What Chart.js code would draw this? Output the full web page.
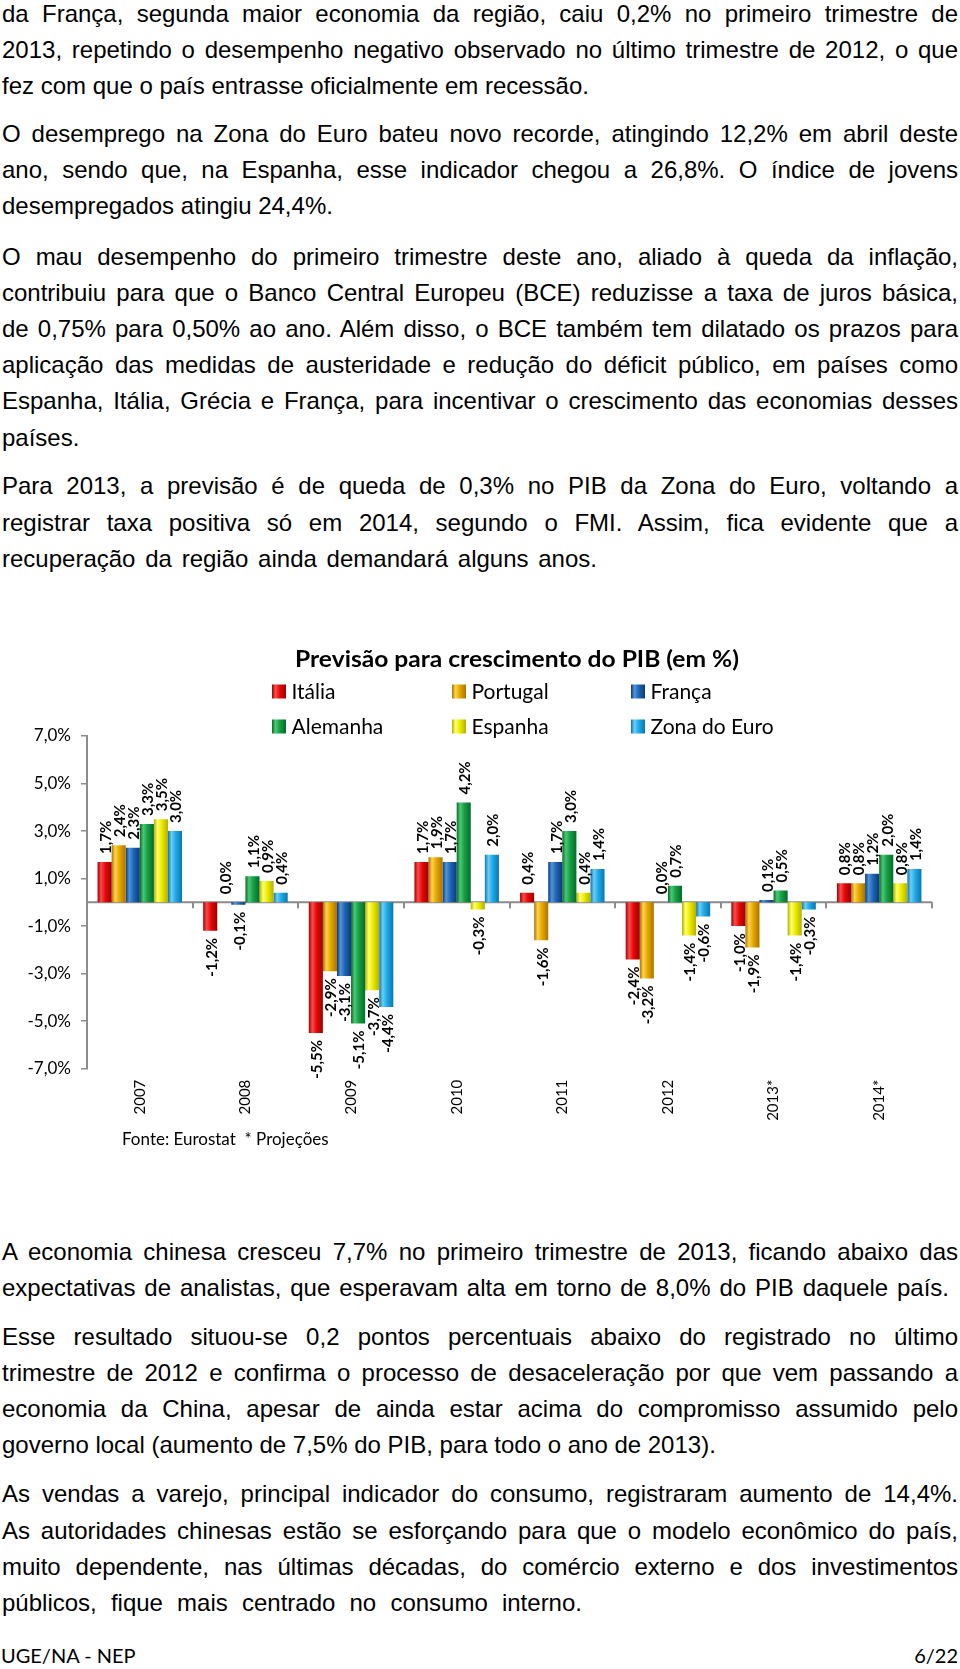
<!DOCTYPE html>
<html lang="pt">
<head>
<meta charset="utf-8">
<script src="https://cdn.jsdelivr.net/npm/chart.js"></script>
<style>
html,body{margin:0;padding:0;background:#fff;}
body{width:960px;height:1669px;position:relative;overflow:hidden;font-family:"Liberation Sans",Arial,sans-serif;color:#000;}
.p{position:absolute;left:2px;width:956px;font-size:24px;line-height:36.2px;}
.p div{white-space:nowrap;}
#chartbox{position:absolute;left:0;top:600px;width:960px;height:560px;}
#fonte{position:absolute;left:122px;top:1128px;font-family:Lato,sans-serif;font-size:17px;line-height:22px;white-space:pre;}
.foot{position:absolute;top:1642px;font-family:Lato,sans-serif;font-size:20px;line-height:26px;}
</style>
</head>
<body>
<div class="p" style="top:-4px">
<div class="j">da França, segunda maior economia da região, caiu 0,2% no primeiro trimestre de</div>
<div class="j">2013, repetindo o desempenho negativo observado no último trimestre de 2012, o que</div>
<div>fez com que o país entrasse oficialmente em recessão.</div>
</div>
<div class="p" style="top:116px">
<div class="j">O desemprego na Zona do Euro bateu novo recorde, atingindo 12,2% em abril deste</div>
<div class="j">ano, sendo que, na Espanha, esse indicador chegou a 26,8%. O índice de jovens</div>
<div>desempregados atingiu 24,4%.</div>
</div>
<div class="p" style="top:238.5px">
<div class="j">O mau desempenho do primeiro trimestre deste ano, aliado à queda da inflação,</div>
<div class="j">contribuiu para que o Banco Central Europeu (BCE) reduzisse a taxa de juros básica,</div>
<div class="j">de 0,75% para 0,50% ao ano. Além disso, o BCE também tem dilatado os prazos para</div>
<div class="j">aplicação das medidas de austeridade e redução do déficit público, em países como</div>
<div class="j">Espanha, Itália, Grécia e França, para incentivar o crescimento das economias desses</div>
<div>países.</div>
</div>
<div class="p" style="top:468.4px">
<div class="j">Para 2013, a previsão é de queda de 0,3% no PIB da Zona do Euro, voltando a</div>
<div class="j">registrar taxa positiva só em 2014, segundo o FMI. Assim, fica evidente que a</div>
<div class="j" data-w="595">recuperação da região ainda demandará alguns anos.</div>
</div>

<div id="chartbox"><canvas id="c" width="960" height="560"></canvas></div>
<div id="fonte">Fonte: Eurostat  * Projeções</div>

<div class="p" style="top:1233.7px">
<div class="j">A economia chinesa cresceu 7,7% no primeiro trimestre de 2013, ficando abaixo das</div>
<div class="j" data-w="947">expectativas de analistas, que esperavam alta em torno de 8,0% do PIB daquele país.</div>
</div>
<div class="p" style="top:1318.8px">
<div class="j">Esse resultado situou-se 0,2 pontos percentuais abaixo do registrado no último</div>
<div class="j">trimestre de 2012 e confirma o processo de desaceleração por que vem passando a</div>
<div class="j">economia da China, apesar de ainda estar acima do compromisso assumido pelo</div>
<div>governo local (aumento de 7,5% do PIB, para todo o ano de 2013).</div>
</div>
<div class="p" style="top:1476.4px">
<div class="j">As vendas a varejo, principal indicador do consumo, registraram aumento de 14,4%.</div>
<div class="j">As autoridades chinesas estão se esforçando para que o modelo econômico do país,</div>
<div class="j">muito dependente, nas últimas décadas, do comércio externo e dos investimentos</div>
<div class="j" data-w="580">públicos, fique mais centrado no consumo interno.</div>
</div>

<div class="foot" style="left:1px">UGE/NA - NEP</div>
<div class="foot" style="right:2px">6/22</div>

<script>
// ---- data ----
const categories = ['2007', '2008', '2009', '2010', '2011', '2012', '2013*', '2014*'];
const seriesNames = ['Itália', 'Portugal', 'França', 'Alemanha', 'Espanha', 'Zona do Euro'];
const italia   = [1.7, -1.2, -5.5, 1.7, 0.4, -2.4, -1.0, 0.8];
const portugal = [2.4, 0.0, -2.9, 1.9, -1.6, -3.2, -1.9, 0.8];
const franca   = [2.3, -0.1, -3.1, 1.7, 1.7, 0.0, 0.1, 1.2];
const alemanha = [3.3, 1.1, -5.1, 4.2, 3.0, 0.7, 0.5, 2.0];
const espanha  = [3.5, 0.9, -3.7, -0.3, 0.4, -1.4, -1.4, 0.8];
const zonaEuro = [3.0, 0.4, -4.4, 2.0, 1.4, -0.6, -0.3, 1.4];
const yMin = -7, yMax = 7, yStep = 2;
const chartTitle = 'Previsão para crescimento do PIB (em %)';

// ---- styles ----
const PAL = [
  {base:'#e20a0a', dark:'#9e0000', light:'#ff4a4a'},
  {base:'#e6a800', dark:'#a87400', light:'#ffd34a'},
  {base:'#1f66b5', dark:'#0b3a78', light:'#4f94dc'},
  {base:'#14a044', dark:'#086a28', light:'#4cc874'},
  {base:'#ecec00', dark:'#b4b000', light:'#ffff6a'},
  {base:'#1eaae6', dark:'#0a76ae', light:'#6ccdf8'}
];

// justify lines
document.querySelectorAll('.j').forEach(el => {
  const target = el.dataset.w ? parseFloat(el.dataset.w) : 956;
  const span = document.createElement('span');
  span.textContent = el.textContent;
  span.style.whiteSpace = 'nowrap';
  el.textContent = '';
  el.appendChild(span);
  const w = span.getBoundingClientRect().width;
  const n = (span.textContent.match(/ /g) || []).length;
  if (n > 0) span.style.wordSpacing = ((target - w) / n) + 'px';
});

const fmt = v => v.toFixed(1).replace('.', ',') + '%';

function makeGrad(c, left, w, p) {
  const g = c.createLinearGradient(left, 0, left + w, 0);
  g.addColorStop(0, p.dark);
  g.addColorStop(0.25, p.light);
  g.addColorStop(0.55, p.base);
  g.addColorStop(1, p.dark);
  return g;
}

function barBg(i) {
  return function(ctx) {
    const p = PAL[i];
    if (ctx.type !== 'data') return p.base;
    const chart = ctx.chart, xs = chart.scales.x;
    if (!xs || !chart.chartArea) return p.base;
    const cw = xs.width / categories.length;
    const gw = cw * 0.8, bw = gw / 6;
    const cx = xs.getPixelForValue(ctx.dataIndex);
    const left = cx - gw / 2 + i * bw;
    return makeGrad(chart.ctx, left, bw, p);
  };
}

const seriesData = [italia, portugal, franca, alemanha, espanha, zonaEuro];

const decorPlugin = {
  id: 'decor',
  beforeDatasetsDraw(chart) {
    const c = chart.ctx, xs = chart.scales.x, ys = chart.scales.y, a = chart.chartArea;
    const y0 = ys.getPixelForValue(0);
    c.save();
    c.strokeStyle = '#8c8c8c';
    c.lineWidth = 2;
    c.beginPath();
    c.moveTo(a.left, y0);
    c.lineTo(a.right, y0);
    for (let k = 1; k <= categories.length; k++) {
      const x = Math.round(xs.getPixelForValue(k - 0.5));
      c.moveTo(x, y0);
      c.lineTo(x, y0 + 6);
    }
    c.stroke();
    c.restore();
  },
  afterDatasetsDraw(chart) {
    const c = chart.ctx;
    c.save();
    c.font = 'bold 15px Lato';
    c.fillStyle = '#000';
    c.textBaseline = 'middle';
    chart.data.datasets.forEach((ds, i) => {
      const meta = chart.getDatasetMeta(i);
      meta.data.forEach((bar, j) => {
        const v = ds.data[j];
        c.save();
        if (v >= 0) {
          c.translate(bar.x + 1.5, bar.y - 8);
          c.rotate(-Math.PI / 2);
          c.textAlign = 'left';
        } else {
          c.translate(bar.x + 1.5, bar.y + 7);
          c.rotate(-Math.PI / 2);
          c.textAlign = 'right';
        }
        c.fillText(fmt(v), 0, 0);
        c.restore();
      });
    });
    c.restore();
  },
  afterDraw(chart) {
    const c = chart.ctx;
    c.save();
    // title
    c.font = 'bold 23px Lato';
    c.fillStyle = '#000';
    c.textBaseline = 'middle';
    c.textAlign = 'left';
    const tw = c.measureText(chartTitle).width;
    const target = 444;
    c.translate(295, 60);
    c.scale(target / tw, 1);
    c.fillText(chartTitle, 0, 0);
    c.restore();
    // legend
    c.save();
    c.font = '21px Lato';
    c.textBaseline = 'middle';
    c.textAlign = 'left';
    const colX = [272, 452, 631];
    const rowY = [91.5, 126.5];
    chart.data.datasets.forEach((ds, i) => {
      const col = i % 3, row = Math.floor(i / 3);
      const bx = colX[col], by = rowY[row];
      c.fillStyle = makeGrad(c, bx, 14, PAL[i]);
      c.fillRect(bx, by - 7, 14, 14);
      c.fillStyle = '#000';
      c.fillText(ds.label, bx + 19.5, by + 1);
    });
    c.restore();
  }
};

function build() {
  new Chart(document.getElementById('c'), {
    type: 'bar',
    data: {
      labels: categories,
      datasets: seriesNames.map((name, i) => ({
        label: name,
        data: seriesData[i],
        backgroundColor: barBg(i),
        borderWidth: 0,
        categoryPercentage: 0.8,
        barPercentage: 1.0
      }))
    },
    options: {
      responsive: false,
      animation: false,
      events: [],
      layout: {padding: {top: 136, right: 28, bottom: 0, left: 0}},
      plugins: {legend: {display: false}, title: {display: false}, tooltip: {enabled: false}},
      scales: {
        x: {
          grid: {display: false},
          border: {display: false},
          ticks: {
            maxRotation: 90, minRotation: 90, padding: 3, color: '#000',
            font: {family: 'Lato', size: 15}
          },
          afterFit(s) { s.height = 91.3; }
        },
        y: {
          min: yMin, max: yMax,
          ticks: {
            stepSize: yStep, color: '#000', padding: 10,
            font: {family: 'Lato', size: 17},
            callback: v => fmt(v)
          },
          grid: {drawOnChartArea: false, drawTicks: true, tickLength: 6, color: '#8c8c8c', lineWidth: 1.5},
          border: {color: '#8c8c8c', width: 2},
          afterFit(s) { s.width = 87; }
        }
      }
    },
    plugins: [decorPlugin]
  });
}

const fontLoads = [document.fonts.load('15px Lato'), document.fonts.load('bold 15px Lato')];
Promise.race([Promise.all(fontLoads), new Promise(r => setTimeout(r, 800))]).then(build, build);
</script>
</body>
</html>
